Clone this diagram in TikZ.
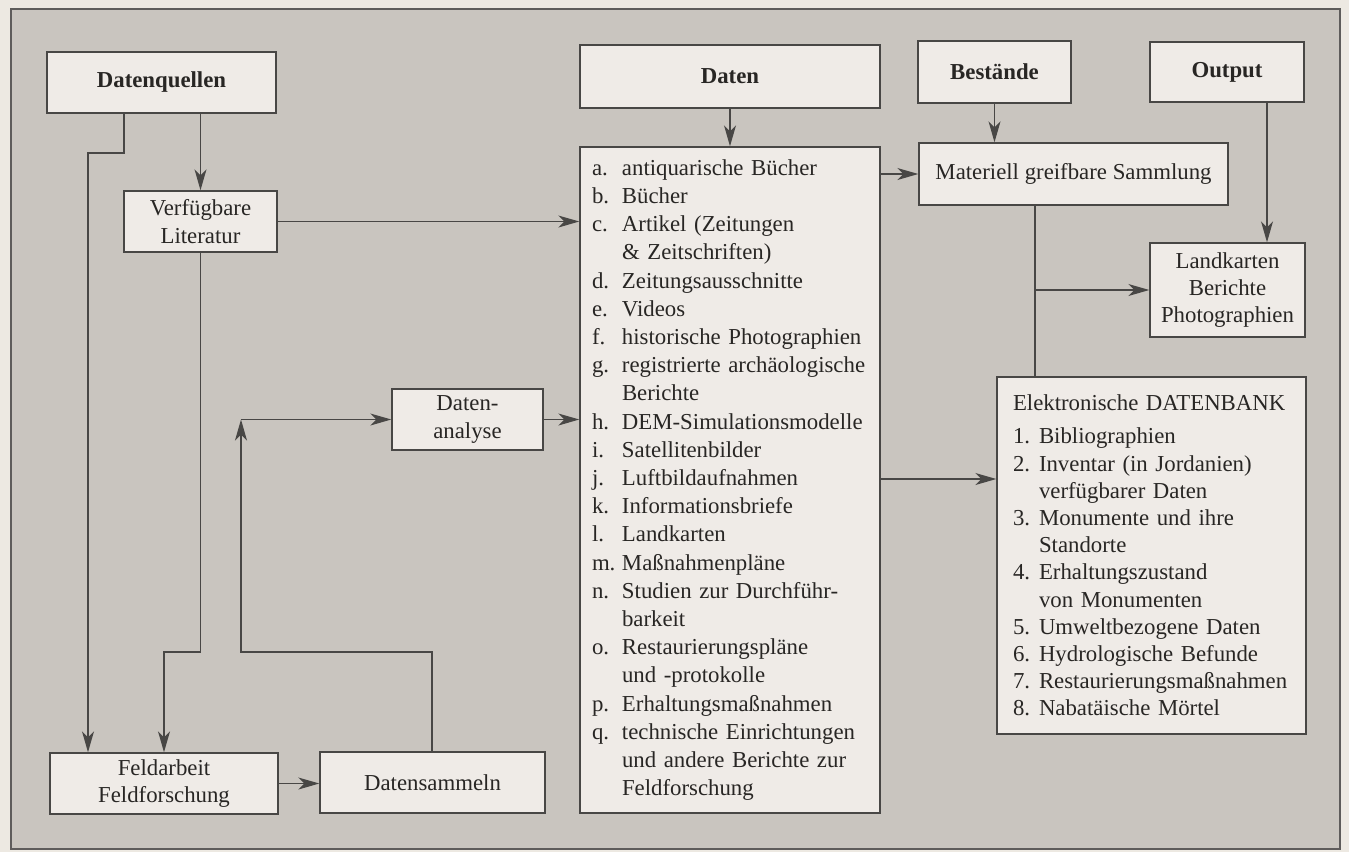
\documentclass[tikz,border=0pt]{standalone}
\usepackage{fontspec}
\setmainfont{Liberation Serif}
\usetikzlibrary{arrows.meta}

\definecolor{pagebg}{HTML}{EDE9E2}
\definecolor{framebg}{HTML}{C9C5BF}
\definecolor{boxbg}{HTML}{EFEBE7}
\definecolor{ink}{HTML}{282624}

\newcommand{\listlbl}[1]{\makebox[15pt][l]{#1}}
\newcommand{\listind}{\hspace*{15pt}}
\newcommand{\banklbl}[1]{\makebox[13pt][l]{#1}}
\newcommand{\bankind}{\hspace*{13pt}}

\tikzstyle{box}=[draw=ink!85, fill=boxbg, line width=0.7pt, inner sep=0pt, align=center, text=ink, font=\fontsize{11.4}{13.6}\selectfont]
\tikzstyle{head}=[box, font=\fontsize{11.4}{13.6}\selectfont\bfseries]
\tikzstyle{arrow}=[draw=ink!85, line width=0.65pt, -{Stealth[length=10.5pt,width=6pt,inset=3pt]}]
\tikzstyle{line}=[draw=ink!85, line width=0.65pt]

\begin{document}
\begin{tikzpicture}[x=0.5pt, y=-0.5pt]
  \useasboundingbox (0,0) rectangle (1349,852);
  \fill[pagebg] (0,0) rectangle (1349,852);
  \filldraw[fill=framebg, draw=ink!75, line width=0.6pt] (11,9) rectangle (1340,849);

  \node[head, minimum width=114.5pt, minimum height=30.5pt] (quellen) at (161.5,82.5) {Datenquellen};
  \node[box, minimum width=76.5pt, minimum height=30.5pt] (literatur) at (200.5,221.5) {Verfügbare\\Literatur};
  \node[head, minimum width=150pt, minimum height=31.5pt] (daten) at (730,76.5) {Daten};
  \node[box, minimum width=150pt, minimum height=333pt, align=left, text width=138pt, inner xsep=6pt, font=\fontsize{11.4}{14.1}\selectfont] (liste) at (730,480) {%
    \listlbl{a.}antiquarische Bücher\\
    \listlbl{b.}Bücher\\
    \listlbl{c.}Artikel (Zeitungen\\
    \listind \& Zeitschriften)\\
    \listlbl{d.}Zeitungsausschnitte\\
    \listlbl{e.}Videos\\
    \listlbl{f.}historische Photographien\\
    \listlbl{g.}registrierte archäologische\\
    \listind Berichte\\
    \listlbl{h.}DEM-Simulationsmodelle\\
    \listlbl{i.}Satellitenbilder\\
    \listlbl{j.}Luftbildaufnahmen\\
    \listlbl{k.}Informationsbriefe\\
    \listlbl{l.}Landkarten\\
    \listlbl{m.}Maßnahmenpläne\\
    \listlbl{n.}Studien zur Durchführ-\\
    \listind barkeit\\
    \listlbl{o.}Restaurierungspläne\\
    \listind und -protokolle\\
    \listlbl{p.}Erhaltungsmaßnahmen\\
    \listlbl{q.}technische Einrichtungen\\
    \listind und andere Berichte zur\\
    \listind Feldforschung};
  \node[head, minimum width=76.5pt, minimum height=31pt] (bestaende) at (994.5,72) {Bestände};
  \node[head, minimum width=77pt, minimum height=30pt] (output) at (1227,72) {Output};
  \node[box, minimum width=154.5pt, minimum height=31pt] (sammlung) at (1073.5,174) {Materiell greifbare Sammlung};
  \node[box, minimum width=77.5pt, minimum height=47pt] (karten) at (1227.5,290) {Landkarten\\Berichte\\Photographien};
  \node[box, minimum width=154.5pt, minimum height=178.5pt, align=left, text width=138.5pt, inner xsep=8pt] (datenbank) at (1151.5,555.5) {%
    Elektronische DATENBANK\\[3pt]
    \banklbl{1.}Bibliographien\\
    \banklbl{2.}Inventar (in Jordanien)\\
    \bankind verfügbarer Daten\\
    \banklbl{3.}Monumente und ihre\\
    \bankind Standorte\\
    \banklbl{4.}Erhaltungszustand\\
    \bankind von Monumenten\\
    \banklbl{5.}Umweltbezogene Daten\\
    \banklbl{6.}Hydrologische Befunde\\
    \banklbl{7.}Restaurierungsmaßnahmen\\
    \banklbl{8.}Nabatäische Mörtel};
  \node[box, minimum width=75.5pt, minimum height=30.5pt] (analyse) at (467.5,419.5) {Daten-\\analyse};
  \node[box, minimum width=114pt, minimum height=30.5pt] (feld) at (164,783.5) {Feldarbeit\\Feldforschung};
  \node[box, minimum width=112.5pt, minimum height=30.5pt] (sammeln) at (432.5,782.5) {Datensammeln};

  \coordinate (q1) at (124,153);
  \coordinate (q2) at (88,153);
  \coordinate (l1) at (200.5,652);
  \coordinate (l2) at (164,652);
  \coordinate (s1) at (432,652);
  \coordinate (s2) at (241,652);
  \coordinate (s3) at (241,419.5);
  \coordinate (o1) at (1267,200);
  \coordinate (m1) at (1035,290);
  \coordinate (d1) at (940,479);

  \draw[arrow] (quellen.south -| q1) -- (q1) -- (q2) -- (q2 |- feld.north);
  \draw[arrow] (literatur.north |- quellen.south) -- (literatur.north);
  \draw[arrow] (literatur.east) -- (literatur.east -| liste.west);
  \draw[arrow] (literatur.south) -- (l1) -- (l2) -- (l2 |- feld.north);
  \draw[arrow] (sammeln.north -| s1) -- (s1) -- (s2) -- (s3);
  \draw[arrow] (s3) -- (analyse.west);
  \draw[arrow] (analyse.east) -- (analyse.east -| liste.west);
  \draw[arrow] (feld.east) -- (feld.east -| sammeln.west);
  \draw[arrow] (daten.south) -- (liste.north);
  \draw[arrow] (liste.east |- sammlung.west) -- (sammlung.west);
  \draw[arrow] (bestaende.south) -- (bestaende.south |- sammlung.north);
  \draw[arrow] (output.south -| o1) -- (o1 |- karten.north);
  \draw[line] (sammlung.south -| m1) -- (m1 |- datenbank.north);
  \draw[arrow] (m1) -- (m1 -| karten.west);
  \draw[arrow] (liste.east |- d1) -- (datenbank.west |- d1);
\end{tikzpicture}
\end{document}
